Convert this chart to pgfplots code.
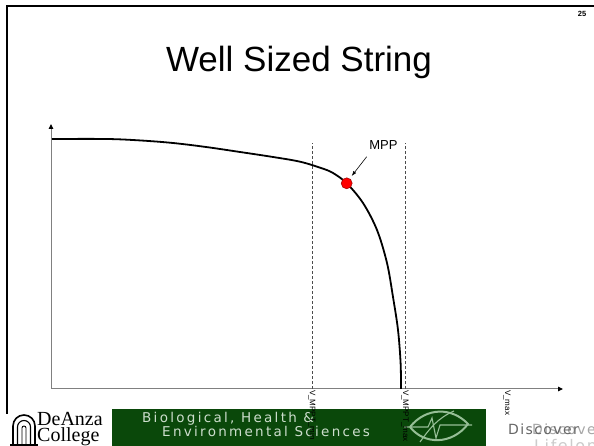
\documentclass[border=0pt]{standalone}
\usepackage{pgfplots}
\pgfplotsset{compat=1.18}
\usepackage{fontspec}
\setmainfont{Liberation Sans}
\newfontfamily\seriffont{Liberation Serif}
\newfontfamily\bannerfont[LetterSpace=17]{DejaVu Sans}
\newfontfamily\discfont[LetterSpace=10]{DejaVu Sans}
\usetikzlibrary{arrows.meta}
\definecolor{bannergreen}{RGB}{10,72,10}
\definecolor{bannertext}{RGB}{205,222,205}
\definecolor{eyegreen}{RGB}{150,190,150}
\begin{document}
\begin{tikzpicture}[x=1pt,y=1pt]
\useasboundingbox (0,0) rectangle (594,446);
\fill[white] (0,0) rectangle (594,446);
% slide frame
\draw[line width=2pt] (7,32) -- (7,440) -- (594,440);
\node[font=\bfseries\fontsize{7.5}{8}\selectfont, anchor=base] at (582,429) {25};
% title
\node[font=\fontsize{35}{40}\selectfont, anchor=base] at (299,374.3) {Well Sized String};
% footer: logo
\draw[line width=1.4pt] (10,1) -- (38,1);
\draw[line width=1.6pt] (13,1) -- (13,20) arc(180:0:11) -- (35,1);
\draw[line width=1.1pt] (17.5,1) -- (17.5,19) arc(180:0:6.5) -- (30.5,1);
\draw[line width=0.9pt] (22,1) -- (22,18) arc(180:0:2) -- (26,1);
\node[font=\seriffont\fontsize{20}{20}\selectfont, anchor=base west, inner sep=0pt] at (37,20) {DeAnza};
\node[font=\seriffont\fontsize{20}{20}\selectfont, anchor=base west, inner sep=0pt] at (37,4) {College};
% banner
\fill[bannergreen] (112,0) rectangle (486,37);
\node[font=\bannerfont\fontsize{13.5}{14}\selectfont, text=bannertext, anchor=base west, inner sep=0pt] at (142,23) {Biological, Health \&};
\node[font=\bannerfont\fontsize{13.5}{14}\selectfont, text=bannertext, anchor=base west, inner sep=0pt] at (162,9) {Environmental Sciences};
% eye logo
\draw[eyegreen, line width=2pt] (410,19) .. controls (426,39) and (452,39) .. (468,22) .. controls (452,1) and (424,1) .. (410,19);
\draw[eyegreen, line width=1.1pt] (404,19) -- (428,19) -- (432,28) -- (436,8) -- (440,21) -- (472,21);
\draw[eyegreen, line width=1.1pt] (420,4) .. controls (430,18) and (438,28) .. (454,35);
% Discover
\node[font=\discfont\fontsize{14}{14}\selectfont, text=black!35, anchor=base west, inner sep=0pt] at (532,11) {Discover};
\node[font=\discfont\fontsize{14}{14}\selectfont, text=black!60, anchor=base west, inner sep=0pt] at (508,11) {Discover};
\node[font=\discfont\fontsize{16}{16}\selectfont, text=black!20, anchor=base west, inner sep=0pt] at (534,-6) {Lifelong};
\begin{axis}[
  at={(51pt,57pt)}, anchor=south west,
  width=512pt, height=265pt, scale only axis,
  xmin=0, xmax=512, ymin=0, ymax=265,
  axis lines=left,
  axis line style={draw=black!50, line width=1pt, -{Triangle[black,length=5pt,width=4.5pt]}},
  ytick=\empty,
  xtick={261,354,456},
  xticklabels={V\_MPPT\_min, V\_MPPT\_max, V\_max},
  major tick length=0pt,
  x tick label style={rotate=-90, anchor=west, inner sep=1pt, font=\fontsize{8}{9}\selectfont},
  clip=false,
]
\addplot[black!70, densely dashed, line width=0.6pt] coordinates {(261,0) (261,246)};
\addplot[black!70, densely dashed, line width=0.6pt] coordinates {(354,0) (354,246)};
\addplot[black, line width=1.8pt, smooth, tension=0.55] coordinates {
(1,250) (56,250) (90,248.5) (122,246) (155,242) (189,237) (222,232) (249,227.3) (270,221) (282,216) (295.7,205.7) (312,186) (326,159) (336,126) (342,92) (347,59) (349.6,26) (350,0)};
\addplot[only marks, mark=*, mark size=5.5pt, mark options={fill=red, draw=red!60!black, line width=0.5pt}] coordinates {(295.7,205.7)};
\draw[-{Latex[length=5pt,width=3.5pt]}, line width=0.6pt] (axis cs:315.7,232.3) -- (axis cs:300.7,213);
\node[font=\fontsize{13}{14}\selectfont] at (axis cs:332.5,244) {MPP};
\end{axis}
\end{tikzpicture}
\end{document}
